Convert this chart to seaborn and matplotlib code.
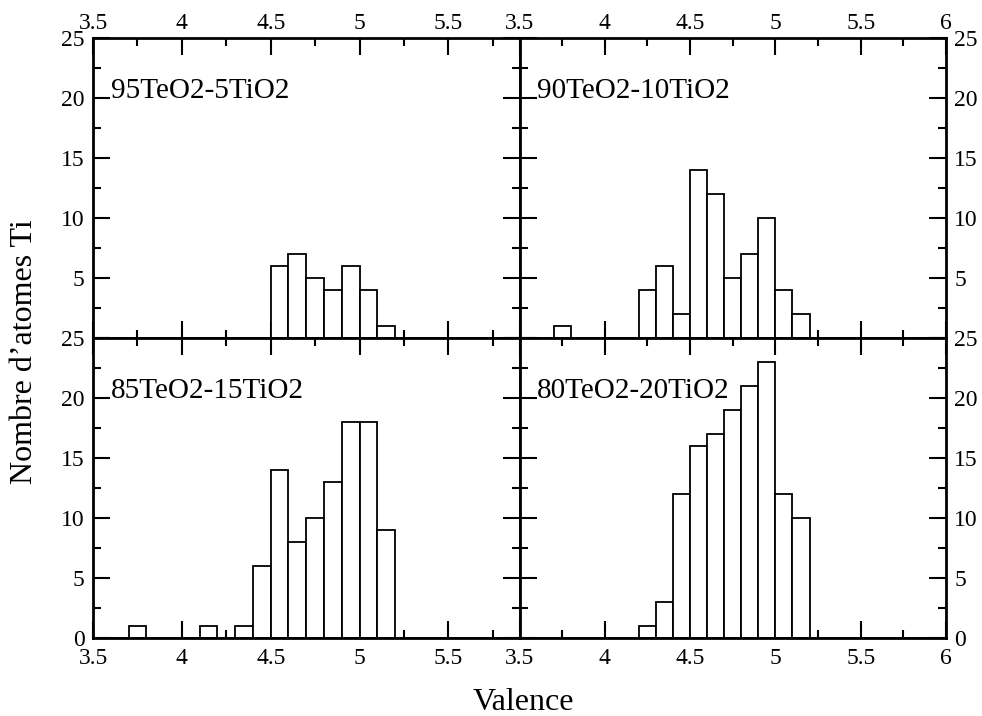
import numpy as np
import pandas as pd
import matplotlib
matplotlib.use("Agg")
import matplotlib.pyplot as plt
import seaborn as sns
from matplotlib.ticker import MultipleLocator, FuncFormatter

# Histogram data: left edge of each 0.1-wide valence bin and count
titles = ["95TeO2-5TiO2", "90TeO2-10TiO2", "85TeO2-15TiO2", "80TeO2-20TiO2"]

v_95 = [4.5, 4.6, 4.7, 4.8, 4.9, 5.0, 5.1]
n_95 = [6, 7, 5, 4, 6, 4, 1]

v_90 = [3.7, 4.2, 4.3, 4.4, 4.5, 4.6, 4.7, 4.8, 4.9, 5.0, 5.1]
n_90 = [1, 4, 6, 2, 14, 12, 5, 7, 10, 4, 2]

v_85 = [3.7, 4.1, 4.3, 4.4, 4.5, 4.6, 4.7, 4.8, 4.9, 5.0, 5.1]
n_85 = [1, 1, 1, 6, 14, 8, 10, 13, 18, 18, 9]

v_80 = [4.2, 4.3, 4.4, 4.5, 4.6, 4.7, 4.8, 4.9, 5.0, 5.1]
n_80 = [1, 3, 12, 16, 17, 19, 21, 23, 12, 10]

x_label = "Valence"
y_label = "Nombre d\u2019atomes Ti"

sns.set_style("ticks", {"axes.edgecolor": "black", "text.color": "black",
                        "xtick.color": "black", "ytick.color": "black",
                        "axes.labelcolor": "black"})
plt.rcParams["font.family"] = ["Liberation Serif", "DejaVu Serif"]

fig, axes = plt.subplots(2, 2, figsize=(9.82, 7.16), dpi=100)
fig.subplots_adjust(left=93/982, right=946/982, top=1-38/716, bottom=1-638/716,
                    wspace=0, hspace=0)

datasets = [(v_95, n_95), (v_90, n_90), (v_85, n_85), (v_80, n_80)]

for i, (ax, (v, n), title) in enumerate(zip(axes.flat, datasets, titles)):
    df = pd.DataFrame({"valence": np.round(np.array(v) + 0.05, 3), "count": n})
    sns.histplot(data=df, x="valence", weights="count", binwidth=0.1,
                 binrange=(3.5, 6.0), ax=ax,
                 color="white", edgecolor="black", linewidth=1.3, alpha=1)
    row, col = divmod(i, 2)
    ax.set_xlim(3.5, 5.9 if col == 0 else 6.0)
    ax.set_ylim(0, 25)
    ax.set_xlabel("")
    ax.set_ylabel("")
    ax.xaxis.set_major_locator(MultipleLocator(0.5))
    ax.xaxis.set_minor_locator(MultipleLocator(0.25))
    ax.yaxis.set_major_locator(MultipleLocator(5))
    ax.yaxis.set_minor_locator(MultipleLocator(2.5))
    ax.xaxis.set_major_formatter(FuncFormatter(lambda x, p: f"{x:g}"))
    if row == 0:
        ax.yaxis.set_major_formatter(FuncFormatter(lambda y, p: "" if y == 0 else f"{y:g}"))
    else:
        ax.yaxis.set_major_formatter(FuncFormatter(lambda y, p: f"{y:g}"))
    ax.tick_params(which="both", direction="in", top=True, bottom=True,
                   left=True, right=True, width=1.5, labelsize=17, pad=6,
                   colors="black",
                   labeltop=(row == 0), labelbottom=(row == 1),
                   labelleft=(col == 0), labelright=(col == 1))
    # top labels sit closer to the frame than bottom ones
    ax.tick_params(axis="x", which="major", pad=3 if row == 0 else 7)
    ax.tick_params(which="major", length=12)
    ax.tick_params(which="minor", length=6)
    for s in ax.spines.values():
        s.set_linewidth(2)
        s.set_color("black")
        s.set_visible(True)
    ax.text(3.6, 20, title, fontsize=21, va="baseline", ha="left", color="black")

fig.text(523/982, 1-702/716, x_label, ha="center", va="center", fontsize=23, color="black")
fig.text(25/982, 1-352/716, y_label, ha="center", va="center", rotation=90,
         fontsize=23, color="black")

fig.savefig("out.png", dpi=100)
